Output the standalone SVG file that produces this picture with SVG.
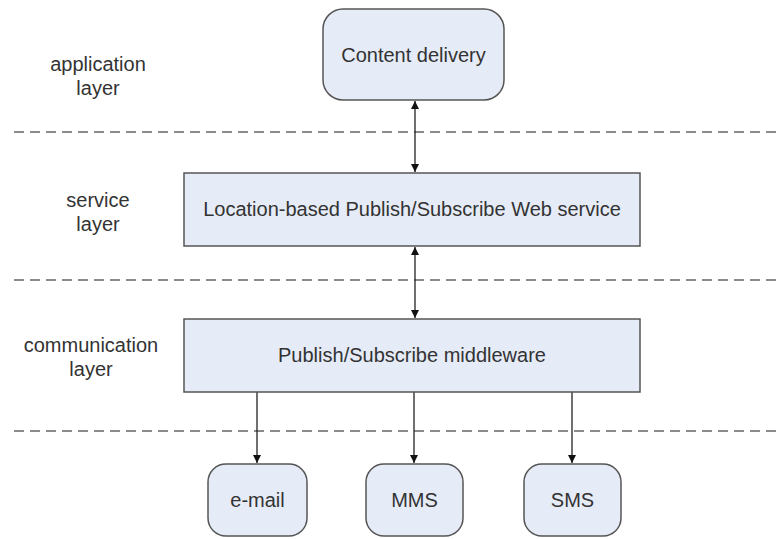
<svg xmlns="http://www.w3.org/2000/svg" width="782" height="539" viewBox="0 0 782 539">
  <style>
    .box { fill: #e6ecf7; stroke: #555; stroke-width: 1.5; }
    .lbl { font-family: "Liberation Sans", Arial, sans-serif; font-size: 20px; fill: #333; text-anchor: middle; }
    .sep { stroke: #666; stroke-width: 1.3; stroke-dasharray: 10 6; fill: none; }
    .wire { stroke: #222; stroke-width: 1.3; fill: none; }
  </style>
  <defs>
    <marker id="arr" viewBox="0 0 10 10" refX="10" refY="5" markerWidth="8" markerHeight="8" markerUnits="userSpaceOnUse" orient="auto-start-reverse">
      <path d="M0,0 L10,5 L0,10 z" fill="#111"/>
    </marker>
  </defs>
  <rect width="782" height="539" fill="#fff"/>

  <!-- layer separators -->
  <g id="separators">
    <line class="sep" x1="14" y1="132" x2="782" y2="132"/>
    <line class="sep" x1="14" y1="280" x2="782" y2="280"/>
    <line class="sep" x1="14" y1="431" x2="782" y2="431"/>
  </g>

  <!-- layer names -->
  <g id="layer-labels">
    <text class="lbl" x="98" y="71">application</text>
    <text class="lbl" x="98" y="95">layer</text>
    <text class="lbl" x="98" y="207">service</text>
    <text class="lbl" x="98" y="231">layer</text>
    <text class="lbl" x="91" y="352">communication</text>
    <text class="lbl" x="91" y="376">layer</text>
  </g>

  <!-- connectors -->
  <g id="connectors">
    <line class="wire" x1="415" y1="101" x2="415" y2="172" marker-start="url(#arr)" marker-end="url(#arr)"/>
    <line class="wire" x1="415" y1="247" x2="415" y2="318" marker-start="url(#arr)" marker-end="url(#arr)"/>
    <line class="wire" x1="257" y1="392" x2="257" y2="463" marker-end="url(#arr)"/>
    <line class="wire" x1="414" y1="392" x2="414" y2="463" marker-end="url(#arr)"/>
    <line class="wire" x1="572" y1="392" x2="572" y2="463" marker-end="url(#arr)"/>
  </g>

  <g id="content-delivery">
    <rect class="box" x="323" y="9" width="181" height="91" rx="20"/>
    <text class="lbl" x="413.5" y="62">Content delivery</text>
  </g>

  <g id="pubsub-web-service">
    <rect class="box" x="184" y="173" width="456" height="73"/>
    <text class="lbl" x="412" y="216">Location-based Publish/Subscribe Web service</text>
  </g>

  <g id="pubsub-middleware">
    <rect class="box" x="184" y="319" width="456" height="73"/>
    <text class="lbl" x="412" y="362">Publish/Subscribe middleware</text>
  </g>

  <g id="email">
    <rect class="box" x="208" y="464" width="99" height="72" rx="18"/>
    <text class="lbl" x="257.5" y="507">e-mail</text>
  </g>

  <g id="mms">
    <rect class="box" x="366" y="464" width="97" height="72" rx="18"/>
    <text class="lbl" x="414.5" y="507">MMS</text>
  </g>

  <g id="sms">
    <rect class="box" x="524" y="464" width="97" height="72" rx="18"/>
    <text class="lbl" x="572.5" y="507">SMS</text>
  </g>
</svg>
